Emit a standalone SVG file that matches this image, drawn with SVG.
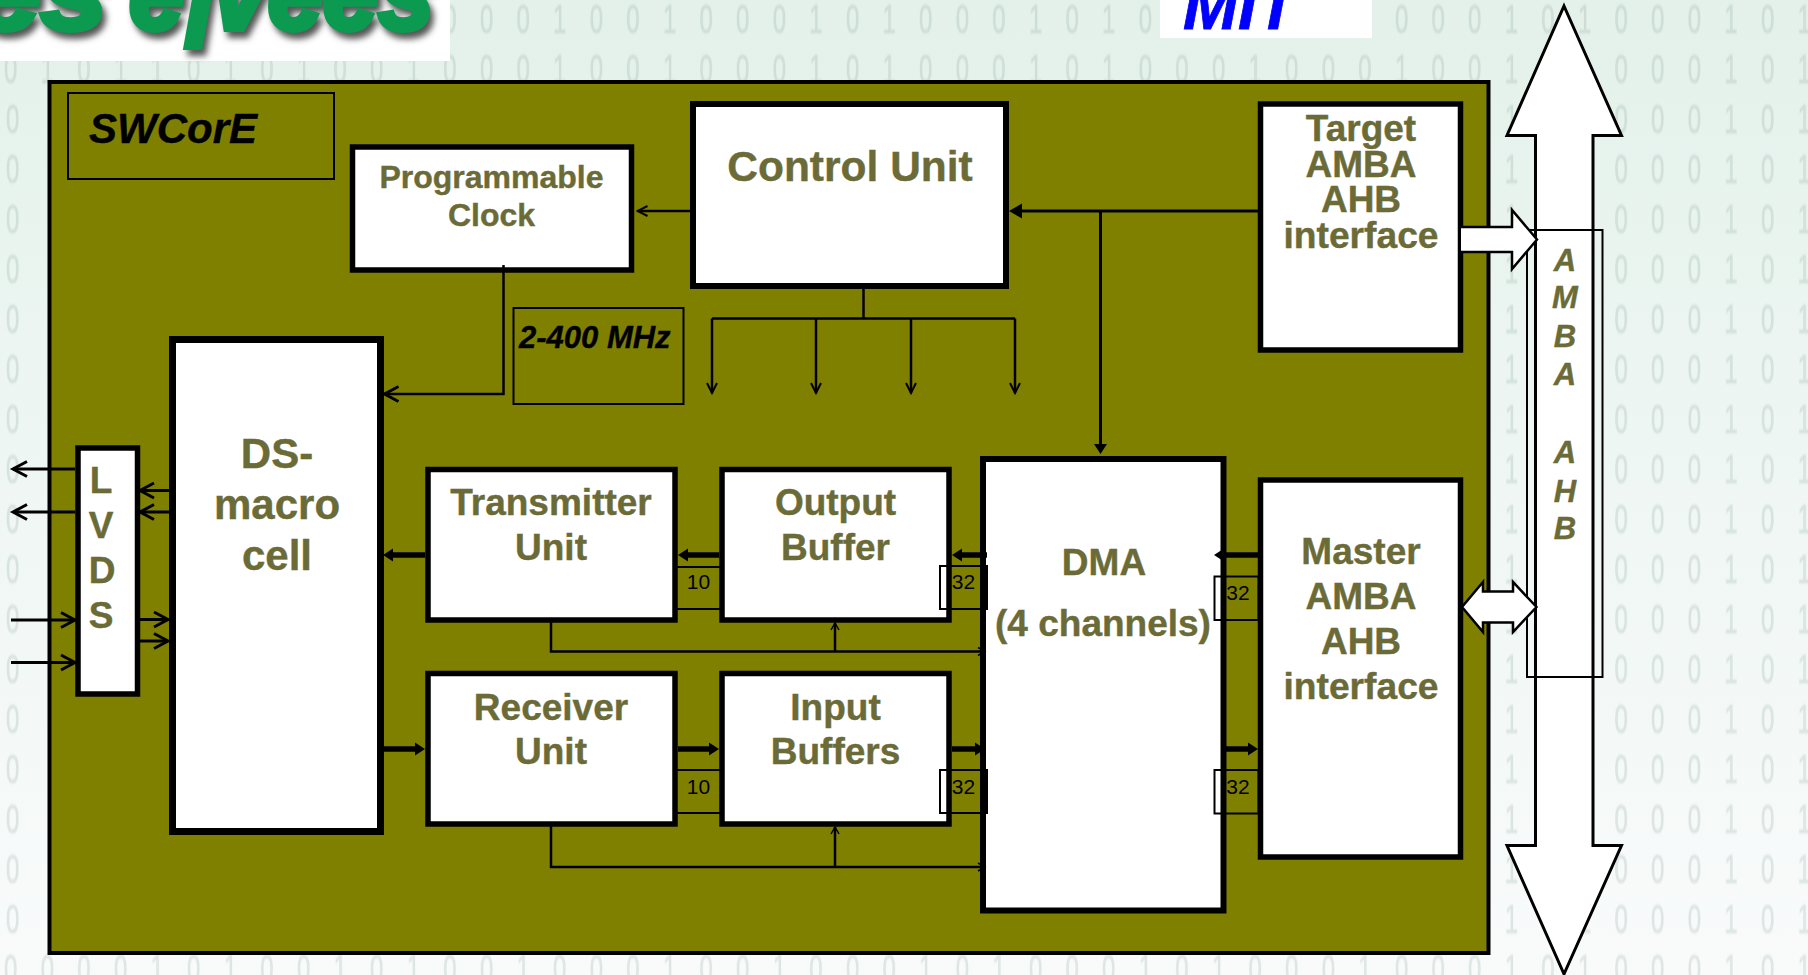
<svg xmlns="http://www.w3.org/2000/svg" width="1808" height="975" viewBox="0 0 1808 975">
<style>
text{font-family:"Liberation Sans",Arial,sans-serif}
.box{fill:#fff;stroke:#000;stroke-width:5.5}
.lbl{fill:#6b6b38;stroke:#6b6b38;stroke-width:.4;font-weight:700;text-anchor:middle}
.f37{font-size:37px}
.f42{font-size:42px}
.it{font-style:italic}
.frame{fill:none;stroke:#000;stroke-width:2}
.blk{fill:#000;stroke:#000;stroke-width:.4;font-weight:700;font-style:italic}
.num{fill:#000;font-size:21px;text-anchor:middle}
.thin{fill:none;stroke:#000;stroke-width:2.5}
.mid{fill:none;stroke:#000;stroke-width:3}
.thick{fill:none;stroke:#000;stroke-width:5.5}
.hollow{fill:#fff;stroke:#000;stroke-width:2.5}
.dig{fill:#7f9a90;fill-opacity:.2;stroke:#7f9a90;stroke-opacity:.08;stroke-width:1.5;font-size:40px;text-anchor:middle}
.lg{font-size:108px;font-weight:700;font-style:italic}
.lgf{fill:#0b9a50;stroke:#0b9a50;stroke-width:6}
.lgs{fill:#555;stroke:#555;stroke-width:6}
</style>
<defs>
<linearGradient id="bg" x1="0" y1="0" x2="0" y2="1"><stop offset="0" stop-color="#e3f1ea"/><stop offset=".45" stop-color="#eef6f3"/><stop offset="1" stop-color="#f9fbfb"/></linearGradient>
<filter id="soft"><feGaussianBlur stdDeviation="1.2"/></filter>
<filter id="shadow" x="-10%" y="-30%" width="120%" height="160%"><feGaussianBlur stdDeviation="3"/></filter>
<marker id="open-l" markerUnits="userSpaceOnUse" markerWidth="24" markerHeight="24" viewBox="-20 -12 24 24" refX="0" refY="0" orient="auto"><path d="M-14-7.5L0 0L-14 7.5" fill="none" stroke="#000" stroke-width="3"/></marker>
<marker id="open-s" markerUnits="userSpaceOnUse" markerWidth="16" markerHeight="16" viewBox="-14 -8 16 16" refX="0" refY="0" orient="auto"><path d="M-10-5L0 0L-10 5" fill="none" stroke="#000" stroke-width="2"/></marker>
<marker id="open-t" markerUnits="userSpaceOnUse" markerWidth="12" markerHeight="12" viewBox="-10 -6 12 12" refX="0" refY="0" orient="auto"><path d="M-7-4L0 0L-7 4" fill="none" stroke="#000" stroke-width="1.5"/></marker>
<marker id="fill-l" markerUnits="userSpaceOnUse" markerWidth="16" markerHeight="18" viewBox="0 -9 16 18" refX="0" refY="0" orient="auto"><path d="M0-7.5L13 0L0 7.5Z" fill="#000"/></marker>
<marker id="fill-m" markerUnits="userSpaceOnUse" markerWidth="14" markerHeight="16" viewBox="0 -8 14 16" refX="0" refY="0" orient="auto"><path d="M0-6.5L10 0L0 6.5Z" fill="#000"/></marker>
</defs>

<rect id="background" width="1808" height="975" fill="url(#bg)"/>
<g id="binary-pattern" transform="scale(.6 1)" filter="url(#soft)">
<text class="dig" y="33" x="750 811 872 933 994 1055 1116 1177 1238 1299 1360 1421 1482 1543 1604 1665 1726 1787 1848 1909">00010010001010001010</text>
<text class="dig" y="33" x="2336 2397 2458 2519 2580 2641 2702 2763 2824 2885 2946 3007">000101000101</text>
<text class="dig" y="83" x="18 79 140 201 262 323 384 445 506 567 628 689 750 811 872 933 994 1055 1116 1177 1238 1299 1360 1421 1482 1543 1604 1665 1726 1787 1848 1909 1970 2031 2092 2153 2214 2275 2336 2397 2458 2519 2580 2641 2702 2763 2824 2885 2946 3007">01011010100100010010001010001010001000100101000101</text>
<text id="digrow" class="dig" y="133" x="21 2519 2580 2641 2702 2763 2824 2885 2946 3007">0101000101</text>
<use href="#digrow" y="50"/><use href="#digrow" y="100"/><use href="#digrow" y="150"/><use href="#digrow" y="200"/><use href="#digrow" y="250"/><use href="#digrow" y="300"/><use href="#digrow" y="350"/><use href="#digrow" y="400"/><use href="#digrow" y="450"/><use href="#digrow" y="500"/><use href="#digrow" y="550"/><use href="#digrow" y="600"/><use href="#digrow" y="650"/><use href="#digrow" y="700"/><use href="#digrow" y="750"/><use href="#digrow" y="800"/>
<text class="dig" y="983" x="18 79 140 201 262 323 384 445 506 567 628 689 750 811 872 933 994 1055 1116 1177 1238 1299 1360 1421 1482 1543 1604 1665 1726 1787 1848 1909 1970 2031 2092 2153 2214 2275 2336 2397 2458 2519 2580 2641 2702 2763 2824 2885 2946 3007">00001010010100100010010001010001010001000101000101</text>
</g>

<g id="logo">
<rect width="450" height="61" fill="#fff"/>
<text class="lg lgs" x="-21" y="35" filter="url(#shadow)" textLength="132" lengthAdjust="spacingAndGlyphs">es</text>
<text class="lg lgf" x="-25" y="29" textLength="132" lengthAdjust="spacingAndGlyphs">es</text>
<text class="lg lgs" x="133" y="35" filter="url(#shadow)" textLength="305" lengthAdjust="spacingAndGlyphs">e<tspan dy="18">l</tspan><tspan dy="-18">vees</tspan></text>
<text class="lg lgf" x="129" y="29" textLength="305" lengthAdjust="spacingAndGlyphs">e<tspan dy="18">l</tspan><tspan dy="-18">vees</tspan></text>
</g>
<g id="mit-logo">
<rect x="1160" width="212" height="38" fill="#fff"/>
<text x="1183" y="29" fill="#0000ff" stroke="#0000ff" stroke-width=".8" font-size="66" font-weight="700" font-style="italic">MIT</text>
</g>

<rect id="swcore-panel" x="49.5" y="82" width="1439" height="871" fill="#808000" stroke="#000" stroke-width="4"/>
<g id="swcore-title">
<rect class="frame" x="68" y="93" width="266" height="86"/>
<text class="blk" x="89" y="143" font-size="42">SWCorE</text>
</g>
<g id="freq-label">
<rect class="frame" x="513.5" y="308" width="170" height="96"/>
<text class="blk" x="519" y="348" font-size="31">2-400 MHz</text>
</g>

<g id="programmable-clock">
<rect class="box" x="352.5" y="147" width="279" height="123"/>
<text class="lbl" x="491.5" y="188" font-size="32">Programmable</text>
<text class="lbl" x="491.5" y="226" font-size="32">Clock</text>
</g>
<g id="control-unit">
<rect class="box" style="stroke-width:6" x="693" y="104" width="313" height="182"/>
<text class="lbl" x="850" y="181" font-size="42.5">Control Unit</text>
</g>
<g id="target-interface">
<rect class="box" x="1260.5" y="104" width="200" height="246"/>
<text class="lbl f37" x="1361" y="141">Target</text>
<text class="lbl f37" x="1361" y="177">AMBA</text>
<text class="lbl f37" x="1361" y="212">AHB</text>
<text class="lbl f37" x="1361" y="248" textLength="155" lengthAdjust="spacingAndGlyphs">interface</text>
</g>
<g id="ds-macro-cell">
<rect class="box" style="stroke-width:7" x="172.5" y="339.5" width="208" height="492"/>
<text class="lbl f42" x="277" y="468">DS-</text>
<text class="lbl f42" x="277" y="519">macro</text>
<text class="lbl f42" x="277" y="570">cell</text>
</g>
<g id="lvds">
<rect class="box" x="78" y="448" width="59.5" height="246"/>
<text class="lbl f37" x="101" y="493">L</text>
<text class="lbl f37" x="101" y="538">V</text>
<text class="lbl f37" x="102" y="583">D</text>
<text class="lbl f37" x="101" y="628">S</text>
</g>
<g id="transmitter-unit">
<rect class="box" x="428" y="469.5" width="247" height="150.5"/>
<text class="lbl f37" x="551" y="515">Transmitter</text>
<text class="lbl f37" x="551" y="560">Unit</text>
</g>
<g id="output-buffer">
<rect class="box" x="722" y="469.5" width="227" height="150.5"/>
<text class="lbl f37" x="835.5" y="515">Output</text>
<text class="lbl f37" x="835.5" y="560">Buffer</text>
</g>
<g id="receiver-unit">
<rect class="box" x="428" y="673.5" width="247" height="150.5"/>
<text class="lbl f37" x="551" y="720">Receiver</text>
<text class="lbl f37" x="551" y="764">Unit</text>
</g>
<g id="input-buffers">
<rect class="box" x="722" y="673.5" width="227" height="150.5"/>
<text class="lbl f37" x="835.5" y="720">Input</text>
<text class="lbl f37" x="835.5" y="764">Buffers</text>
</g>
<g id="dma">
<rect class="box" style="stroke-width:6" x="983" y="459" width="240.5" height="451.5"/>
<text class="lbl f37" x="1104" y="575">DMA</text>
<text class="lbl f37" x="1103" y="636">(4 channels)</text>
</g>
<g id="master-interface">
<rect class="box" x="1260.5" y="480" width="200" height="377"/>
<text class="lbl f37" x="1361" y="564">Master</text>
<text class="lbl f37" x="1361" y="609">AMBA</text>
<text class="lbl f37" x="1361" y="654">AHB</text>
<text class="lbl f37" x="1361" y="699" textLength="155" lengthAdjust="spacingAndGlyphs">interface</text>
</g>

<g id="amba-ahb-bus">
<path class="hollow" style="stroke-width:3" d="M1564 6L1621.5 135.5H1593V845.5H1621.5L1564 974L1507 845.5H1535.5V135.5H1507Z"/>
<rect class="frame" x="1527" y="230" width="75.5" height="447"/>
<text class="lbl it" font-size="31" x="1565" y="271">A</text>
<text class="lbl it" font-size="31" x="1565" y="308">M</text>
<text class="lbl it" font-size="31" x="1565" y="347">B</text>
<text class="lbl it" font-size="31" x="1565" y="385">A</text>
<text class="lbl it" font-size="31" x="1565" y="463">A</text>
<text class="lbl it" font-size="31" x="1565" y="502">H</text>
<text class="lbl it" font-size="31" x="1565" y="539">B</text>
</g>

<g id="connectors">
<path class="hollow" d="M1461 227H1512V210L1537 239.5L1512 269V252H1461"/>
<path class="hollow" d="M1462 607L1483 582V591.5H1513V582L1536.5 607L1513 632V622.5H1483V632Z"/>

<path class="thin" marker-end="url(#open-s)" d="M690 211H637.5"/>
<path class="thin" marker-end="url(#open-l)" d="M503.5 265V394H384.5"/>
<path class="mid" marker-end="url(#fill-l)" d="M1258 211H1022"/>
<path class="mid" marker-end="url(#fill-m)" d="M1100.5 211V444"/>
<path class="thin" d="M863.5 286V318.5M712 318.5H1015"/>
<path class="thin" marker-end="url(#open-s)" d="M712 318.5V393"/>
<path class="thin" marker-end="url(#open-s)" d="M816 318.5V393"/>
<path class="thin" marker-end="url(#open-s)" d="M911 318.5V393"/>
<path class="thin" marker-end="url(#open-s)" d="M1015 318.5V393"/>

<path class="mid" marker-end="url(#open-l)" d="M75 469H13"/>
<path class="mid" marker-end="url(#open-l)" d="M75 512H13"/>
<path class="mid" marker-end="url(#open-l)" d="M11 620H75"/>
<path class="mid" marker-end="url(#open-l)" d="M11 662.5H75"/>
<path class="mid" marker-end="url(#open-l)" d="M169 490.5H140"/>
<path class="mid" marker-end="url(#open-l)" d="M169 512H140"/>
<path class="mid" marker-end="url(#open-l)" d="M135 619.5H168"/>
<path class="mid" marker-end="url(#open-l)" d="M135 641H168"/>

<path class="thick" marker-end="url(#fill-m)" d="M425 555H393"/>
<path class="thick" marker-end="url(#fill-m)" d="M719 555H688"/>
<path class="thick" marker-end="url(#fill-m)" d="M987 555H962"/>
<path class="thick" marker-end="url(#fill-m)" d="M1258 555H1224"/>
<path class="thick" marker-end="url(#fill-m)" d="M384 749H415"/>
<path class="thick" marker-end="url(#fill-m)" d="M678 749H709"/>
<path class="thick" marker-end="url(#fill-m)" d="M952 749H975"/>
<path class="thick" marker-end="url(#fill-m)" d="M1226 749H1248"/>

<path class="thin" marker-end="url(#open-t)" d="M551 622V651.5H985"/>
<path class="thin" marker-end="url(#open-t)" d="M835 651.5V623"/>
<path class="thin" marker-end="url(#open-t)" d="M551 826V867H985"/>
<path class="thin" marker-end="url(#open-t)" d="M835 867V827"/>

<path class="frame" d="M676 567H720M676 609H720M676 770H720M676 813H720"/>
<text class="num" x="698.5" y="589">10</text>
<text class="num" x="698.5" y="794">10</text>
<rect class="frame" x="940" y="566" width="47" height="43"/>
<rect class="frame" x="940" y="770" width="47" height="43"/>
<rect class="frame" x="1214.5" y="576.5" width="44" height="43.5"/>
<rect class="frame" x="1214.5" y="770" width="44" height="43.5"/>
<text class="num" x="963.5" y="589">32</text>
<text class="num" x="963.5" y="794">32</text>
<text class="num" x="1238" y="600">32</text>
<text class="num" x="1238" y="794">32</text>
</g>
</svg>
